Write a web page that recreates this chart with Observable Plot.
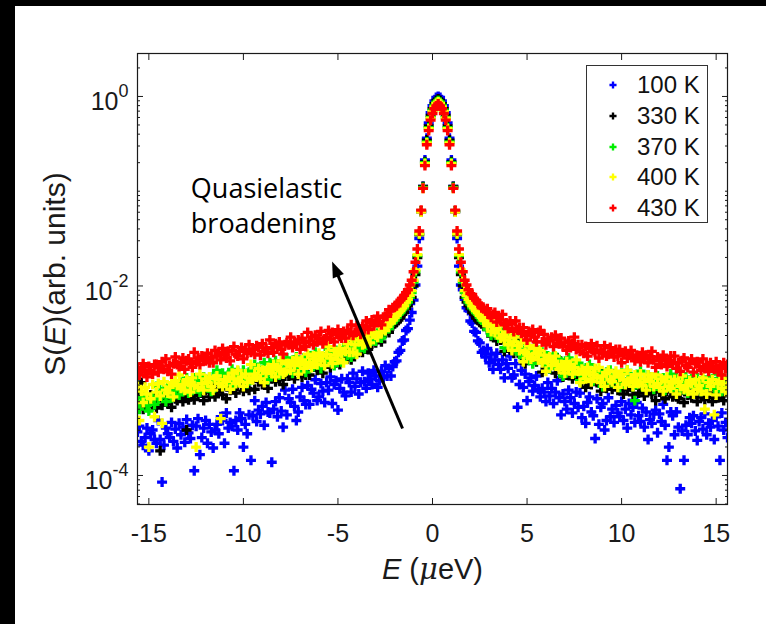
<!DOCTYPE html>
<html><head><meta charset="utf-8">
<script src="https://cdn.jsdelivr.net/npm/d3@7"></script>
<script src="https://cdn.jsdelivr.net/npm/@observablehq/plot@0.6"></script>
<style>
html,body{margin:0;padding:0;background:#000;width:766px;height:624px;overflow:hidden;}
#wrap{position:absolute;left:15px;top:6px;width:751px;height:618px;background:#fff;}
#legend{position:absolute;left:571px;top:59px;width:122px;height:158px;box-sizing:border-box;border:1.3px solid #333;background:#fff;font-family:"Liberation Sans",Arial,sans-serif;font-size:24px;color:#111;}
.row{position:absolute;left:0;height:30px;width:120px;}
.row svg{position:absolute;left:20px;top:9px;}
.row span{position:absolute;left:50px;top:2px;line-height:26px;}
</style></head>
<body><div id="wrap"><div id="legend"></div></div>
<script>
// Energy transfer E (µeV)
const energy = [
-15.6,-15.5,-15.4,-15.3,-15.2,-15.1,-15,-14.9,-14.8,-14.7,
-14.6,-14.5,-14.4,-14.3,-14.2,-14.1,-14,-13.9,-13.8,-13.7,
-13.6,-13.5,-13.4,-13.3,-13.2,-13.1,-13,-12.9,-12.8,-12.7,
-12.6,-12.5,-12.4,-12.3,-12.2,-12.1,-12,-11.9,-11.8,-11.7,
-11.6,-11.5,-11.4,-11.3,-11.2,-11.1,-11,-10.9,-10.8,-10.7,
-10.6,-10.5,-10.4,-10.3,-10.2,-10.1,-10,-9.9,-9.8,-9.7,
-9.6,-9.5,-9.4,-9.3,-9.2,-9.1,-9,-8.9,-8.8,-8.7,
-8.6,-8.5,-8.4,-8.3,-8.2,-8.1,-8,-7.9,-7.8,-7.7,
-7.6,-7.5,-7.4,-7.3,-7.2,-7.1,-7,-6.9,-6.8,-6.7,
-6.6,-6.5,-6.4,-6.3,-6.2,-6.1,-6,-5.9,-5.8,-5.7,
-5.6,-5.5,-5.4,-5.3,-5.2,-5.1,-5,-4.9,-4.8,-4.7,
-4.6,-4.5,-4.4,-4.3,-4.2,-4.1,-4,-3.9,-3.8,-3.7,
-3.6,-3.5,-3.4,-3.3,-3.2,-3.1,-3,-2.9,-2.8,-2.7,
-2.6,-2.5,-2.4,-2.3,-2.2,-2.1,-2,-1.9,-1.8,-1.7,
-1.6,-1.5,-1.4,-1.3,-1.2,-1.1,-1,-0.9,-0.8,-0.7,
-0.6,-0.5,-0.4,-0.3,-0.2,-0.1,0,0.1,0.2,0.3,
0.4,0.5,0.6,0.7,0.8,0.9,1,1.1,1.2,1.3,
1.4,1.5,1.6,1.7,1.8,1.9,2,2.1,2.2,2.3,
2.4,2.5,2.6,2.7,2.8,2.9,3,3.1,3.2,3.3,
3.4,3.5,3.6,3.7,3.8,3.9,4,4.1,4.2,4.3,
4.4,4.5,4.6,4.7,4.8,4.9,5,5.1,5.2,5.3,
5.4,5.5,5.6,5.7,5.8,5.9,6,6.1,6.2,6.3,
6.4,6.5,6.6,6.7,6.8,6.9,7,7.1,7.2,7.3,
7.4,7.5,7.6,7.7,7.8,7.9,8,8.1,8.2,8.3,
8.4,8.5,8.6,8.7,8.8,8.9,9,9.1,9.2,9.3,
9.4,9.5,9.6,9.7,9.8,9.9,10,10.1,10.2,10.3,
10.4,10.5,10.6,10.7,10.8,10.9,11,11.1,11.2,11.3,
11.4,11.5,11.6,11.7,11.8,11.9,12,12.1,12.2,12.3,
12.4,12.5,12.6,12.7,12.8,12.9,13,13.1,13.2,13.3,
13.4,13.5,13.6,13.7,13.8,13.9,14,14.1,14.2,14.3,
14.4,14.5,14.6,14.7,14.8,14.9,15,15.1,15.2,15.3,
15.4,15.5,15.6];

// log10 S(E), one value per energy bin
const logS_100K = [
-3.54,-3.48,-3.64,-3.68,-3.60,-3.50,-3.74,-3.56,-3.52,-3.62,
-3.66,-3.42,-3.62,-4.07,-3.68,-3.50,-3.56,-3.60,-3.44,-3.64,
-3.51,-3.71,-3.45,-3.57,-3.49,-3.65,-3.41,-3.55,-3.61,-3.47,
-3.95,-3.48,-3.40,-3.78,-3.60,-3.50,-3.42,-3.66,-3.46,-3.54,
-3.71,-3.52,-3.46,-3.56,-3.38,-3.42,-3.66,-3.34,-3.50,-3.44,
-3.48,-3.95,-3.42,-3.52,-3.34,-3.40,-3.70,-3.46,-3.56,-3.36,
-3.84,-3.37,-3.21,-3.43,-3.31,-3.35,-3.27,-3.47,-3.23,-3.33,
-3.34,-3.86,-3.30,-3.22,-3.38,-3.18,-3.32,-3.49,-3.10,-3.36,
-3.19,-3.23,-3.09,-3.27,-3.42,-3.33,-3.17,-3.07,-3.21,-3.25,
-3.05,-3.25,-3.09,-3.13,-2.99,-3.21,-3.17,-3.03,-3.11,-3.23,
-3.02,-3.10,-2.96,-3.24,-3.04,-3.00,-3.31,-3.08,-2.98,-3.12,
-3.16,-2.98,-3.02,-3.12,-2.92,-3.06,-2.98,-3.14,-3.02,-2.90,
-3.01,-3.08,-2.92,-2.98,-3.04,-2.89,-2.95,-3.07,-3.00,-2.90,
-2.97,-2.84,-2.95,-2.87,-2.95,
-2.85,-2.80,-2.79,-2.70,-2.68,-2.58,-2.57,-2.47,-2.45,-2.36,
-2.28,-2.15,-1.99,-1.79,-1.50,-1.22,-0.95,-0.67,-0.44,-0.28,
-0.17,-0.097,-0.046,-0.011,0.0,-0.011,-0.046,-0.097,-0.17,-0.28,
-0.44,-0.67,-0.95,-1.22,-1.50,-1.79,-1.99,-2.04,-2.14,-2.23,
-2.26,-2.37,-2.39,-2.48,-2.49,-2.58,-2.60,-2.70,-2.68,
-2.75,-2.66,-2.81,-2.72,-2.88,-2.78,-2.71,-2.83,-2.88,-2.78,
-2.97,-2.82,-2.87,-2.74,-2.97,-2.94,-2.82,-3.28,-3.04,-2.89,
-3.07,-2.93,-3.21,-3.01,-2.97,-3.11,-3.05,-2.95,-3.09,-3.17,
-3.08,-3.12,-3.22,-3.02,-3.16,-3.08,-3.24,-3.12,-3.00,-3.18,
-3.36,-3.14,-3.22,-3.30,-3.10,-3.18,-3.34,-3.24,-3.12,-3.28,
-3.13,-3.39,-3.27,-3.45,-3.23,-3.17,-3.33,-3.37,-3.61,-3.19,
-3.46,-3.28,-3.24,-3.52,-3.42,-3.18,-3.38,-3.30,-3.44,-3.26,
-3.34,-3.38,-3.22,-3.42,-3.30,-3.50,-3.24,-3.36,-3.28,-3.44,
-3.23,-3.37,-3.43,-3.29,-3.49,-3.33,-3.62,-3.41,-3.45,-3.35,
-3.31,-3.55,-3.35,-3.43,-3.25,-3.47,-3.84,-3.70,-3.33,-3.37,
-3.57,-3.33,-3.49,-4.14,-3.53,-3.84,-3.47,-3.57,-3.39,-3.45,
-3.37,-3.53,-3.63,-3.43,-3.39,-3.51,-3.35,-3.57,-3.45,-3.49,
-3.42,-3.62,-3.38,-3.48,-3.84,-3.34,-3.52,-3.44,-3.60];

const logS_330K = [
-3.26,-3.13,-3.02,-3.30,-3.21,-3.18,-3.27,-3.15,-3.25,-3.22,
-3.29,-3.15,-3.74,-3.26,-3.21,-3.14,-3.24,-3.19,-3.28,-3.10,
-3.19,-3.21,-3.12,-3.16,-3.22,-3.14,-3.52,-3.20,-3.17,-3.11,
-3.20,-3.11,-3.16,-3.06,-3.13,-3.21,-3.10,-3.03,-3.17,-3.12,
-3.04,-3.17,-3.12,-3.02,-3.08,-3.15,-3.05,-3.19,-3.03,-3.10,
-2.95,-3.09,-3.13,-3.03,-3.00,-3.05,-3.11,-2.96,-3.08,-3.10,
-2.99,-2.94,-3.09,-2.96,-3.01,-2.93,-3.04,-3.00,-2.98,-3.08,
-2.90,-2.98,-2.85,-3.01,-2.94,-2.99,-2.89,-3.04,-2.95,-2.91,
-2.95,-2.83,-2.93,-2.98,-2.88,-2.85,-2.91,-2.96,-2.81,-2.94,
-2.83,-2.94,-2.80,-2.84,-2.78,-2.89,-2.87,-2.77,-2.92,-2.82,
-2.78,-2.72,-2.86,-2.76,-2.70,-2.81,-2.77,-2.83,-2.73,-2.67,
-2.76,-2.77,-2.69,-2.78,-2.63,-2.69,-2.66,-2.70,-2.56,-2.70,
-2.63,-2.59,-2.67,-2.58,-2.61,-2.53,-2.60,-2.54,-2.55,-2.59,
-2.50,-2.50,-2.47,-2.49,-2.42,
-2.42,-2.40,-2.38,-2.36,-2.34,-2.30,-2.28,-2.24,-2.21,-2.17,
-2.12,-2.00,-1.88,-1.70,-1.46,-1.21,-0.95,-0.69,-0.46,-0.31,
-0.20,-0.128,-0.077,-0.042,-0.027,-0.042,-0.077,-0.128,-0.20,-0.31,
-0.46,-0.69,-0.95,-1.21,-1.46,-1.70,-1.88,-2.00,-2.12,-2.17,
-2.21,-2.24,-2.28,-2.30,-2.34,-2.36,-2.38,-2.40,-2.42,
-2.41,-2.46,-2.43,-2.53,-2.52,-2.47,-2.58,-2.53,-2.57,-2.54,
-2.69,-2.60,-2.55,-2.67,-2.64,-2.71,-2.62,-2.57,-2.71,-2.74,
-2.72,-2.82,-2.68,-2.75,-2.73,-2.78,-2.65,-2.80,-2.74,-2.69,
-2.91,-2.80,-2.85,-2.75,-2.87,-2.78,-2.83,-2.92,-2.76,-2.82,
-2.88,-2.96,-2.85,-2.94,-2.81,-2.91,-2.98,-2.89,-2.86,-2.95,
-2.91,-3.01,-2.98,-3.07,-2.93,-2.96,-3.04,-2.99,-2.92,-3.02,
-3.02,-3.11,-2.93,-3.06,-3.08,-2.99,-3.03,-3.09,-3.01,-2.96,
-3.10,-3.07,-3.01,-3.14,-3.05,-3.10,-3.00,-3.07,-3.15,-3.04,
-2.99,-3.13,-3.08,-3.03,-3.16,-3.11,-3.01,-3.07,-3.14,-3.04,
-3.21,-3.05,-3.12,-3.01,-3.15,-3.19,-3.09,-3.06,-3.11,-3.17,
-3.05,-3.17,-3.19,-3.13,-3.08,-3.23,-3.10,-3.15,-3.07,-3.18,
-3.14,-3.12,-3.22,-3.09,-3.17,-3.04,-3.20,-3.13,-3.18,-3.08,
-3.22,-3.13,-3.09,-3.18,-3.06,-3.16,-3.21,-3.11,-3.08];

const logS_370K = [
-3.23,-3.30,-3.18,-3.22,-3.16,-3.26,-3.32,-3.20,-3.17,-3.25,
-3.06,-3.19,-3.12,-3.14,-3.09,-3.22,-3.07,-3.13,-3.18,-3.04,
-3.10,-3.05,-3.15,-3.02,-3.11,-3.06,-2.97,-3.13,-3.07,-3.10,
-2.97,-3.08,-2.99,-3.12,-3.02,-2.96,-3.04,-3.07,-2.98,-3.11,
-2.96,-2.98,-2.89,-3.03,-3.01,-2.92,-2.97,-3.04,-2.94,-2.99,
-2.88,-3.05,-2.93,-2.90,-2.99,-2.95,-2.89,-2.98,-3.03,-2.91,
-2.89,-2.95,-2.83,-2.91,-2.86,-2.96,-2.89,-2.81,-2.93,-2.99,
-2.81,-2.86,-2.91,-2.79,-2.84,-2.94,-2.87,-2.80,-2.90,-2.76,
-2.88,-2.81,-2.92,-2.78,-2.75,-2.85,-2.87,-2.82,-2.76,-2.91,
-2.77,-2.74,-2.80,-2.85,-2.70,-2.83,-2.78,-2.87,-2.75,-2.79,
-2.77,-2.67,-2.79,-2.72,-2.84,-2.68,-2.75,-2.70,-2.80,-2.65,
-2.70,-2.73,-2.63,-2.75,-2.64,-2.58,-2.67,-2.68,-2.61,-2.55,
-2.66,-2.57,-2.59,-2.51,-2.58,-2.55,-2.58,-2.50,-2.49,-2.55,
-2.46,-2.48,-2.45,-2.45,-2.38,
-2.38,-2.36,-2.33,-2.30,-2.28,-2.25,-2.23,-2.19,-2.17,-2.12,
-2.07,-1.96,-1.85,-1.68,-1.45,-1.21,-0.96,-0.70,-0.48,-0.33,
-0.22,-0.145,-0.094,-0.060,-0.045,-0.060,-0.094,-0.145,-0.22,-0.33,
-0.48,-0.70,-0.96,-1.21,-1.45,-1.68,-1.85,-1.96,-2.07,-2.12,
-2.17,-2.19,-2.23,-2.25,-2.28,-2.30,-2.33,-2.36,-2.38,
-2.33,-2.46,-2.42,-2.52,-2.43,-2.43,-2.51,-2.55,-2.52,-2.49,
-2.65,-2.55,-2.53,-2.60,-2.66,-2.52,-2.66,-2.62,-2.72,-2.61,
-2.72,-2.75,-2.65,-2.77,-2.70,-2.82,-2.66,-2.73,-2.68,-2.78,
-2.70,-2.79,-2.83,-2.74,-2.87,-2.77,-2.72,-2.82,-2.84,-2.78,
-2.80,-2.95,-2.82,-2.87,-2.76,-2.90,-2.86,-2.92,-2.81,-2.84,
-3.00,-2.85,-2.95,-2.91,-2.97,-2.83,-2.93,-3.00,-2.88,-2.92,
-2.90,-3.00,-3.06,-2.94,-2.91,-2.99,-2.89,-3.02,-2.95,-2.97,
-2.94,-3.07,-2.92,-2.98,-3.03,-2.89,-3.01,-2.96,-3.06,-3.21,
-3.04,-2.99,-2.90,-3.06,-3.00,-3.03,-2.94,-3.05,-2.96,-3.09,
-3.01,-2.95,-3.03,-3.06,-2.97,-3.10,-3.00,-3.02,-2.93,-3.07,
-3.06,-2.97,-3.02,-3.09,-2.99,-3.04,-2.96,-3.13,-3.01,-2.98,
-3.07,-3.03,-2.97,-3.06,-3.11,-2.99,-3.02,-3.08,-2.96,-3.04,
-2.98,-3.08,-3.01,-2.93,-3.05,-3.11,-2.97,-3.02,-3.07];

const logS_400K = [
-3.06,-3.42,-3.11,-3.23,-3.07,-3.14,-3.70,-3.19,-3.04,-3.38,
-3.12,-3.03,-3.16,-3.45,-3.01,-3.10,-3.13,-3.07,-3.02,-3.17,
-3.00,-3.05,-2.94,-3.08,-3.04,-3.10,-2.99,-3.02,-3.12,-2.97,
-3.05,-3.70,-3.07,-2.93,-3.03,-3.10,-2.98,-3.02,-2.96,-3.06,
-3.10,-2.98,-2.95,-3.03,-3.40,-3.06,-2.99,-3.01,-2.96,-3.09,
-2.92,-2.98,-3.03,-2.89,-3.01,-2.96,-3.06,-2.93,-3.02,-2.97,
-2.83,-2.99,-2.93,-2.96,-2.87,-2.98,-2.89,-3.02,-2.92,-2.86,
-2.89,-2.92,-2.83,-2.96,-2.86,-2.88,-2.79,-2.93,-2.91,-2.82,
-2.82,-2.89,-2.79,-2.84,-2.76,-2.93,-2.81,-2.78,-2.87,-2.83,
-2.72,-2.81,-2.86,-2.74,-2.77,-2.83,-2.71,-2.79,-2.74,-2.84,
-2.72,-2.64,-2.76,-2.82,-2.68,-2.73,-2.78,-2.66,-2.71,-2.81,
-2.69,-2.61,-2.70,-2.55,-2.70,-2.62,-2.72,-2.57,-2.53,-2.62,
-2.61,-2.57,-2.51,-2.60,-2.51,-2.49,-2.52,-2.54,-2.42,-2.49,
-2.45,-2.47,-2.41,-2.40,-2.39,
-2.36,-2.33,-2.31,-2.28,-2.26,-2.23,-2.21,-2.17,-2.14,-2.10,
-2.05,-1.94,-1.83,-1.67,-1.45,-1.22,-0.97,-0.71,-0.49,-0.34,
-0.23,-0.16,-0.11,-0.074,-0.059,-0.074,-0.11,-0.16,-0.23,-0.34,
-0.49,-0.71,-0.97,-1.22,-1.45,-1.67,-1.83,-1.94,-2.05,-2.10,
-2.14,-2.17,-2.21,-2.23,-2.26,-2.28,-2.31,-2.33,-2.36,
-2.32,-2.42,-2.39,-2.48,-2.40,-2.49,-2.46,-2.42,-2.55,-2.52,
-2.57,-2.49,-2.62,-2.54,-2.68,-2.59,-2.54,-2.63,-2.68,-2.60,
-2.80,-2.70,-2.72,-2.63,-2.77,-2.75,-2.66,-2.71,-2.78,-2.68,
-2.81,-2.73,-2.90,-2.78,-2.75,-2.84,-2.80,-2.74,-2.83,-2.88,
-2.83,-2.86,-2.92,-2.80,-2.88,-2.83,-2.93,-2.86,-2.78,-2.90,
-3.02,-2.88,-2.93,-2.98,-2.86,-2.91,-3.01,-2.94,-2.87,-2.97,
-2.86,-3.02,-2.95,-3.06,-2.92,-2.89,-2.99,-3.01,-2.96,-2.90,
-3.07,-2.96,-2.93,-2.99,-3.04,-2.89,-3.02,-2.97,-3.06,-2.94,
-3.00,-3.03,-2.93,-3.05,-2.98,-3.10,-2.94,-3.01,-2.96,-3.06,
-2.94,-3.03,-3.07,-2.98,-3.11,-3.01,-2.96,-3.06,-3.08,-3.02,
-2.99,-3.14,-3.01,-3.06,-2.95,-3.09,-3.05,-3.11,-3.00,-3.03,
-3.14,-2.99,-3.09,-3.05,-3.11,-2.97,-3.30,-3.14,-3.02,-3.06,
-2.99,-3.36,-3.15,-3.03,-3.00,-3.08,-2.98,-3.11,-3.04];

const logS_430K = [
-2.86,-2.94,-2.88,-2.82,-2.91,-2.96,-2.85,-2.89,-2.93,-2.83,
-2.83,-2.91,-2.86,-2.80,-2.88,-2.77,-2.90,-2.84,-2.93,-2.82,
-2.75,-2.83,-2.85,-2.81,-2.76,-2.88,-2.79,-2.77,-2.82,-2.86,
-2.70,-2.80,-2.76,-2.83,-2.74,-2.77,-2.79,-2.71,-2.81,-2.75,
-2.81,-2.68,-2.74,-2.70,-2.78,-2.66,-2.73,-2.76,-2.69,-2.79,
-2.68,-2.64,-2.72,-2.74,-2.69,-2.65,-2.77,-2.67,-2.71,-2.62,
-2.70,-2.67,-2.72,-2.63,-2.65,-2.73,-2.61,-2.69,-2.66,-2.71,
-2.57,-2.65,-2.70,-2.61,-2.64,-2.59,-2.67,-2.72,-2.62,-2.60,
-2.62,-2.54,-2.65,-2.59,-2.61,-2.57,-2.67,-2.55,-2.60,-2.64,
-2.49,-2.58,-2.54,-2.62,-2.52,-2.59,-2.55,-2.48,-2.61,-2.56,
-2.54,-2.47,-2.56,-2.49,-2.59,-2.51,-2.46,-2.53,-2.55,-2.48,
-2.55,-2.47,-2.49,-2.41,-2.52,-2.49,-2.42,-2.46,-2.51,-2.43,
-2.45,-2.37,-2.46,-2.39,-2.36,-2.42,-2.38,-2.32,-2.38,-2.41,
-2.33,-2.32,-2.32,-2.25,-2.26,
-2.23,-2.22,-2.21,-2.17,-2.15,-2.13,-2.10,-2.07,-2.04,-1.99,
-1.94,-1.85,-1.75,-1.61,-1.42,-1.20,-0.97,-0.73,-0.51,-0.36,
-0.25,-0.18,-0.13,-0.10,-0.08,-0.10,-0.13,-0.18,-0.25,-0.36,
-0.51,-0.73,-0.97,-1.20,-1.42,-1.61,-1.75,-1.85,-1.94,-1.99,
-2.04,-2.08,-2.09,-2.13,-2.15,-2.18,-2.19,-2.23,-2.24,
-2.26,-2.24,-2.30,-2.33,-2.30,-2.28,-2.38,-2.32,-2.36,-2.30,
-2.41,-2.39,-2.45,-2.37,-2.40,-2.48,-2.37,-2.46,-2.44,-2.50,
-2.44,-2.52,-2.57,-2.48,-2.51,-2.46,-2.54,-2.59,-2.49,-2.47,
-2.59,-2.51,-2.62,-2.56,-2.58,-2.54,-2.64,-2.52,-2.57,-2.61,
-2.55,-2.64,-2.60,-2.68,-2.58,-2.65,-2.61,-2.54,-2.67,-2.62,
-2.69,-2.62,-2.71,-2.64,-2.74,-2.66,-2.61,-2.68,-2.70,-2.63,
-2.76,-2.68,-2.70,-2.63,-2.74,-2.72,-2.65,-2.69,-2.75,-2.67,
-2.74,-2.67,-2.81,-2.71,-2.69,-2.76,-2.73,-2.68,-2.75,-2.79,
-2.73,-2.75,-2.80,-2.70,-2.77,-2.73,-2.81,-2.75,-2.69,-2.78,
-2.86,-2.75,-2.79,-2.83,-2.73,-2.77,-2.85,-2.80,-2.74,-2.82,
-2.74,-2.87,-2.81,-2.90,-2.79,-2.76,-2.84,-2.86,-2.82,-2.77,
-2.91,-2.82,-2.80,-2.85,-2.89,-2.77,-2.87,-2.83,-2.90,-2.81,
-2.86,-2.88,-2.80,-2.90,-2.84,-2.94,-2.81,-2.87,-2.83];

const seriesLabels = ["100 K", "330 K", "370 K", "400 K", "430 K"];
const seriesColors = ["#0000ff", "#000000", "#00ee00", "#ffff00", "#ff0000"];
const seriesLogS = [logS_100K, logS_330K, logS_370K, logS_400K, logS_430K];

const xTicks = [-15, -10, -5, 0, 5, 10, 15];
const yLabelTicks = [1e-4, 1e-2, 1];
const yMinorTicks = [5e-5, 6e-5, 7e-5, 8e-5, 9e-5,
  2e-4, 3e-4, 4e-4, 5e-4, 6e-4, 7e-4, 8e-4, 9e-4,
  1e-3, 2e-3, 3e-3, 4e-3, 5e-3, 6e-3, 7e-3, 8e-3, 9e-3,
  2e-2, 3e-2, 4e-2, 5e-2, 6e-2, 7e-2, 8e-2, 9e-2,
  1e-1, 2e-1, 3e-1, 4e-1, 5e-1, 6e-1, 7e-1, 8e-1, 9e-1, 2];

const xTitle = "E (\u03bceV)";
const yTitle = "S(E)(arb. units)";
const noteLines = ["Quasielastic", "broadening"];
const noteE = [-12.78, -12.78];
const noteS = [0.105, 0.0449];
const arrowTail = {E: -1.585, S: 3.13e-4};
const arrowBase = {E: -5.0, S: 0.01294};

// table for Plot, built from the arrays above
const rows = [];
seriesLogS.forEach((vals, k) => vals.forEach((v, i) => rows.push({E: energy[i], S: 10 ** v, T: seriesLabels[k]})));
const notes = noteLines.map((t, i) => ({E: noteE[i], S: noteS[i], text: t}));
const arrowData = [{E1: arrowTail.E, S1: arrowTail.S, E2: arrowBase.E, S2: arrowBase.S}];

const arrowHead = {draw(ctx) { ctx.moveTo(0, -15); ctx.lineTo(6, 1); ctx.lineTo(-6, 1); ctx.closePath(); }};

const ink = "#1a1a1a";
const chart = Plot.plot({
  width: 751, height: 618,
  marginLeft: 122, marginRight: 39, marginTop: 47, marginBottom: 120,
  x: {domain: [-15.6, 15.6]},
  y: {type: "log", domain: [4.94e-5, 2.84]},
  color: {domain: seriesLabels, range: seriesColors},
  style: {fontFamily: "'Liberation Sans', Arial, sans-serif", background: "white", color: ink},
  marks: [
    Plot.dot(rows, {x: "E", y: "S", fill: "T", symbol: "cross", r: 4.2, clip: true}),
    Plot.link(arrowData, {x1: "E1", y1: "S1", x2: "E2", y2: "S2", stroke: "black", strokeWidth: 3}),
    Plot.dot(arrowData, {x: "E2", y: "S2", symbol: arrowHead, fill: "black", rotate: -22.9}),
    Plot.text(notes, {x: "E", y: "S", text: "text", textAnchor: "start", lineAnchor: "middle", fontSize: 27, fontFamily: "'Open Sans', sans-serif", fill: "black"}),
    Plot.frame({stroke: ink, strokeWidth: 1.2}),
    Plot.axisX({anchor: "bottom", ticks: xTicks, tickSize: -6, tickFormat: () => "", label: null}),
    Plot.axisX({anchor: "top", ticks: xTicks, tickSize: -6, tickFormat: () => "", label: null}),
    Plot.axisY({anchor: "left", ticks: yLabelTicks, tickSize: -6, tickFormat: () => "", label: null}),
    Plot.axisY({anchor: "left", ticks: yMinorTicks, tickSize: -3, tickFormat: () => "", label: null}),
    Plot.axisY({anchor: "right", ticks: yLabelTicks, tickSize: -6, tickFormat: () => "", label: null}),
    Plot.axisY({anchor: "right", ticks: yMinorTicks, tickSize: -3, tickFormat: () => "", label: null}),
    Plot.text(xTicks, {x: d => d, frameAnchor: "bottom", lineAnchor: "middle", textAnchor: "middle", dy: 29, text: d => String(d), fontSize: 25, fill: ink}),
    Plot.text(yLabelTicks, {y: d => d, frameAnchor: "left", lineAnchor: "middle", textAnchor: "end", dx: -9, dy: 6, text: d => "10^" + Math.round(Math.log10(d)), fontSize: 25, fill: ink}),
    Plot.text([yTitle], {frameAnchor: "left", text: d => d, rotate: -90, textAnchor: "middle", lineAnchor: "middle", dx: -82, dy: -5, fontSize: 30, fill: ink}),
    Plot.text([xTitle], {frameAnchor: "bottom", text: d => d, textAnchor: "middle", lineAnchor: "middle", dy: 65, fontSize: 29, fill: ink})
  ]
});
document.getElementById("wrap").prepend(chart);

// rich text: superscripts and italics
const NS = "http://www.w3.org/2000/svg";
function ts(text, attrs) { const t = document.createElementNS(NS, "tspan"); t.textContent = text; for (const k in attrs) t.setAttribute(k, attrs[k]); return t; }
chart.querySelectorAll("text").forEach(t => {
  const s = t.textContent;
  if (s.startsWith("10^")) {
    const e = s.slice(3); t.textContent = "10"; t.appendChild(ts(e, {dy: "-13", "font-size": "18"}));
  } else if (s === yTitle) {
    t.textContent = "S("; t.appendChild(ts("E", {"font-style": "italic"})); t.appendChild(document.createTextNode(")(arb. units)"));
  } else if (s === xTitle) {
    t.textContent = ""; t.appendChild(ts("E", {"font-style": "italic"})); t.appendChild(document.createTextNode(" (")); t.appendChild(ts("\u03bc", {"font-style": "italic", "font-family": "'DejaVu Serif', serif"})); t.appendChild(document.createTextNode("eV)"));
  }
});

// legend
const legend = document.getElementById("legend");
const crossPath = d3.symbol(d3.symbolCross, 28)();
seriesLabels.forEach((lab, i) => {
  const row = document.createElement("div");
  row.className = "row"; row.style.top = (4 + 30.8 * i) + "px";
  row.innerHTML = `<svg width="12" height="12" viewBox="-6 -6 12 12"><path d="${crossPath}" fill="${seriesColors[i]}"/></svg><span>${lab}</span>`;
  legend.appendChild(row);
});
</script>
</body></html>
